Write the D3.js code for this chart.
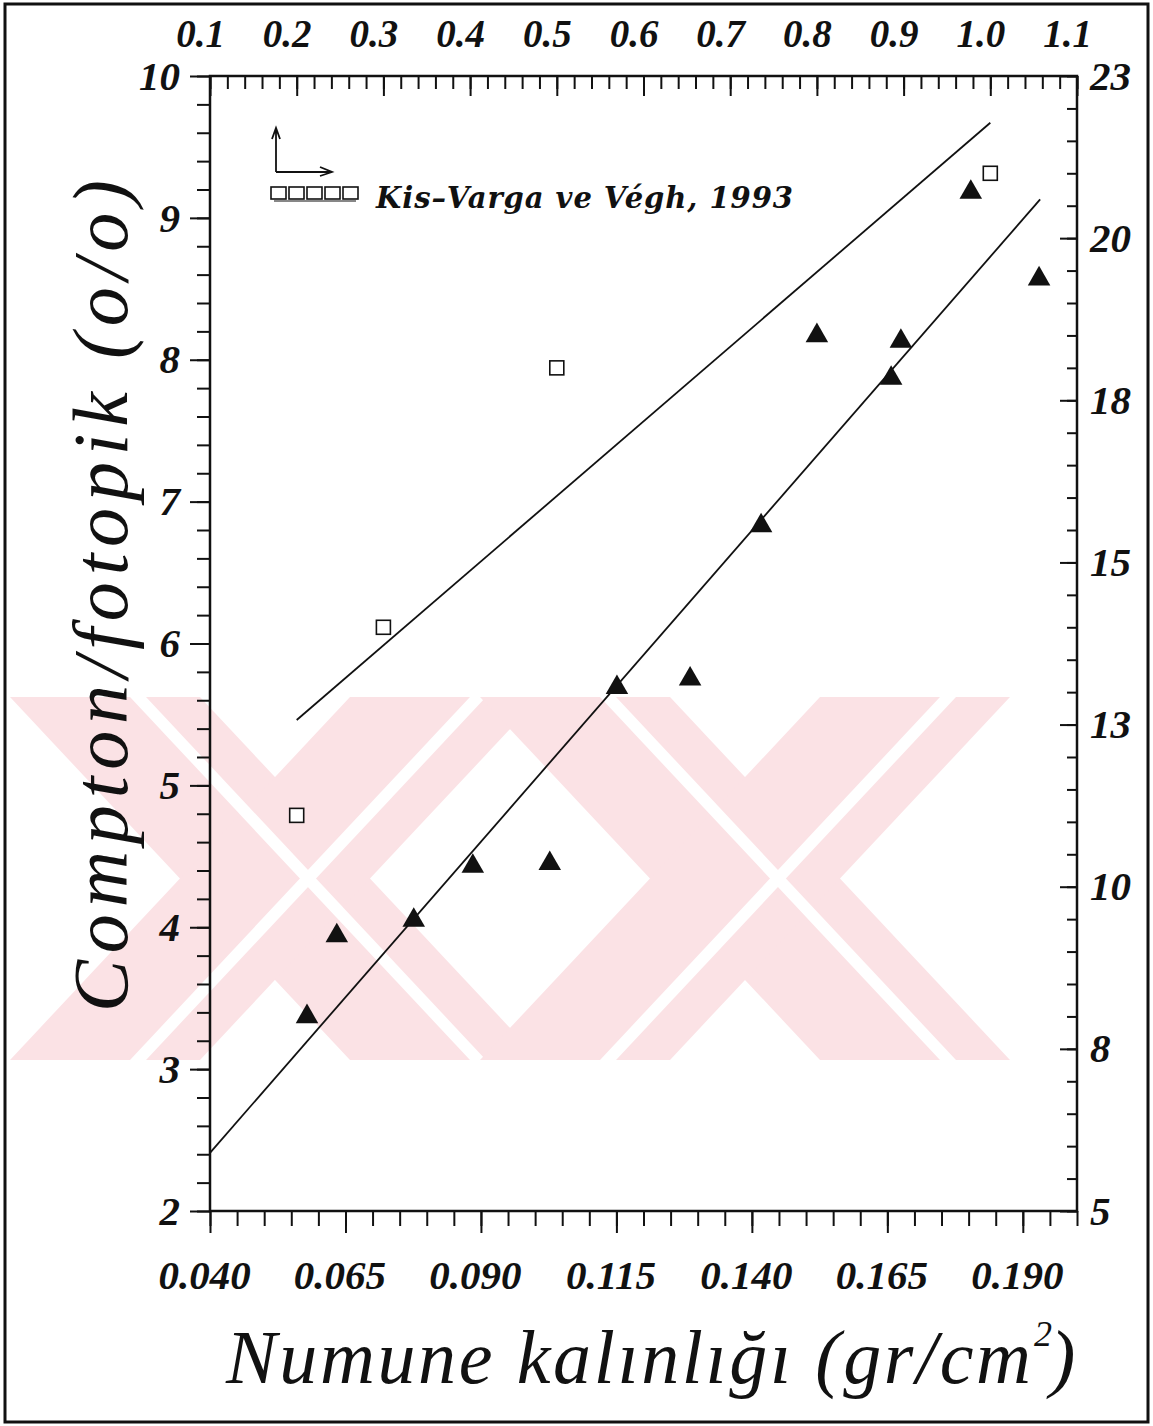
<!DOCTYPE html>
<html lang="tr">
<head>
<meta charset="utf-8">
<title>Compton/fotopik</title>
<script src="https://d3js.org/d3.v7.min.js"></script>
<style>
	body{margin:0;background:#fff;}
	.tick text{font-family:"Liberation Serif",serif;font-style:italic;font-weight:bold;fill:#111;}
	.tick line{stroke:#111;stroke-width:2;}
</style>
</head>
<body>
<div id="chart"></div>
<script>
	const svg_block = {width:1153,height:1426};
	let margin = {top:76,right:76,bottom:215,left:210};
	let width = svg_block.width - margin.left - margin.right;
	let height = svg_block.height - margin.top - margin.bottom;

	// filled triangles, bottom / left axes
	const triX = [0.0579,0.0634,0.0776,0.0885,0.1027,0.1151,0.1286,0.1417,0.1520,0.1657,0.1675,0.1804,0.1930];
	const triY = [3.37,3.94,4.05,4.43,4.45,5.69,5.75,6.83,8.17,7.87,8.13,9.18,8.57];
	// open squares, top / right axes (Kis-Varga ve Végh, 1993)
	const sqX = [0.2,0.3,0.5,1.0];
	const sqY = [11.1,14.0,18.0,21.0];
	// fitted lines (end points)
	const fitLowX = [0.040,0.1932], fitLowY = [2.41,9.13];
	const fitHighX = [0.2,1.0], fitHighY = [12.57,21.78];

	const bottomTicks = [0.040,0.065,0.090,0.115,0.140,0.165,0.190];
	const topTicks = [0.1,0.2,0.3,0.4,0.5,0.6,0.7,0.8,0.9,1.0,1.1];
	const leftTicks = [2,3,4,5,6,7,8,9,10];
	const rightTicks = [5,7.5,10,12.5,15,17.5,20,22.5];

	let svg = d3.select("#chart").append("svg")
		.attr("width",svg_block.width)
		.attr("height",svg_block.height);

	// watermark
	const wm = svg.append("g");
	function band(xTop,xBot,w,y0,y1){
		return [[xTop,y0],[xTop+w,y0],[xBot+w,y1],[xBot,y1]];
	}
	[10,480].forEach(function(ox){
		[[0,340],[340,0]].forEach(function(p){
			wm.append("polygon").attr("points",band(ox+p[0],ox+p[1],190,697,1060).join(" ")).attr("fill","#fbe2e5");
		});
		[[0,340],[340,0]].forEach(function(p){
			wm.append("polygon").attr("points",band(ox+p[0]+120,ox+p[1]+120,16,697,1060).join(" ")).attr("fill","#fff");
		});
	});

	// outer frame
	svg.append("rect").attr("x",5).attr("y",4).attr("width",1143).attr("height",1418)
		.attr("fill","none").attr("stroke","#111").attr("stroke-width",3);

	let g = svg.append("g").attr("transform",`translate(${margin.left},${margin.top})`);

	let x = d3.scaleLinear().domain([0.04,0.2]).range([0,width]);
	let x2 = d3.scaleLinear().domain([0.1,1.1]).range([0,width]);
	let y = d3.scaleLinear().domain([2,10]).range([height,0]);
	let y2 = d3.scaleLinear().domain([5,22.5]).range([height,0]);

	//bottom axis
	g.append("g").attr("transform",`translate(0,${height})`)
		.call(d3.axisBottom(x).tickValues(d3.range(0,33).map(i=>0.04+i*0.005)).tickSize(15).tickFormat(""));
	g.append("g").attr("transform",`translate(0,${height})`)
		.call(d3.axisBottom(x).tickValues(bottomTicks).tickSize(22).tickFormat(d3.format(".3f")))
		.selectAll("text").attr("x",-6).attr("y",49).attr("dy","0.71em").style("font-size","41px");

	//top axis
	g.append("g")
		.call(d3.axisTop(x2).tickValues(d3.range(0,51).map(i=>0.1+i*0.02)).tickSize(-13).tickFormat(""));
	g.append("g")
		.call(d3.axisTop(x2).tickValues(topTicks).tickSize(-20).tickPadding(29).tickFormat(d3.format(".1f")))
		.selectAll("text").attr("x",-10).style("font-size","39px");

	//left axis
	g.append("g")
		.call(d3.axisLeft(y).tickValues(d3.range(0,41).map(i=>2+i*0.2)).tickSize(13).tickFormat(""));
	g.append("g")
		.call(d3.axisLeft(y).tickValues(leftTicks).tickSize(20).tickPadding(10))
		.selectAll("text").style("font-size","41px");

	//right axis
	g.append("g").attr("transform",`translate(${width},0)`)
		.call(d3.axisRight(y2).tickValues(d3.range(0,36).map(i=>5+i*0.5)).tickSize(-10).tickFormat(""));
	g.append("g").attr("transform",`translate(${width},0)`)
		.call(d3.axisRight(y2).tickValues(rightTicks).tickSize(-17).tickPadding(13).tickFormat(d3.format(".0f")))
		.selectAll("text").style("font-size","41px");

	g.selectAll(".domain").remove();
	g.append("rect").attr("width",width).attr("height",height)
		.attr("fill","none").attr("stroke","#111").attr("stroke-width",2.5);

	//fit lines
	let line = d3.line();
	g.append("path")
		.attr("d",line(fitLowX.map((d,i)=>[x(d),y(fitLowY[i])])))
		.attr("fill","none").attr("stroke","#111").attr("stroke-width",1.8);
	g.append("path")
		.attr("d",line(fitHighX.map((d,i)=>[x2(d),y2(fitHighY[i])])))
		.attr("fill","none").attr("stroke","#111").attr("stroke-width",1.8);

	//triangles
	g.selectAll(".tri").data(triX).enter().append("path")
		.attr("class","tri")
		.attr("transform",(d,i)=>`translate(${x(d)},${y(triY[i])})`)
		.attr("d",d3.symbol().type(d3.symbolTriangle).size(220))
		.attr("fill","#111");

	//squares
	g.selectAll(".sq").data(sqX).enter().append("rect")
		.attr("class","sq")
		.attr("x",d=>x2(d)-7)
		.attr("y",(d,i)=>y2(sqY[i])-7)
		.attr("width",14).attr("height",14)
		.attr("fill","#fff").attr("stroke","#111").attr("stroke-width",1.6);

	//legend
	let lg = svg.append("g").attr("transform","translate(276,172)");
	lg.append("path").attr("d","M0,0 V-42 M-4,-33 L0,-44 L4,-33 M0,0 H54 M44,-5 L56,0 L44,4")
		.attr("fill","none").attr("stroke","#111").attr("stroke-width",1.8);
	lg.selectAll(".lsq").data(d3.range(5)).enter().append("rect")
		.attr("x",d=>-5+d*18).attr("y",15).attr("width",15).attr("height",12)
		.attr("fill","#fff").attr("stroke","#111").attr("stroke-width",1.6);
	lg.append("line").attr("x1",-2).attr("x2",80).attr("y1",29).attr("y2",29)
		.attr("stroke","#111").attr("stroke-width",1.2);
	lg.append("text").attr("x",100).attr("y",36)
		.style("font-family","'DejaVu Serif',serif").style("font-style","italic").style("font-weight","bold")
		.style("font-size","29px").attr("fill","#111")
		.attr("textLength",417).attr("lengthAdjust","spacing")
		.text("Kis–Varga ve Végh, 1993");

	//axis titles
	svg.append("text")
		.attr("transform","translate(127,1012) rotate(-90)")
		.style("font-family","'Liberation Serif',serif").style("font-style","italic")
		.style("font-size","78px").attr("fill","#111")
		.attr("textLength",832).attr("lengthAdjust","spacing")
		.text("Compton/fotopik (o/o)");

	svg.append("text")
		.attr("x",226).attr("y",1383)
		.style("font-family","'Liberation Serif',serif").style("font-style","italic")
		.style("font-size","76px").attr("fill","#111")
		.attr("textLength",805).attr("lengthAdjust","spacing")
		.text("Numune kalınlığı (gr/cm");
	svg.append("text").attr("x",1034).attr("y",1346)
		.style("font-family","'Liberation Serif',serif").style("font-style","italic")
		.style("font-size","36px").attr("fill","#111").text("2");
	svg.append("text").attr("x",1050).attr("y",1383)
		.style("font-family","'Liberation Serif',serif").style("font-style","italic")
		.style("font-size","76px").attr("fill","#111").text(")");
</script>
</body>
</html>
